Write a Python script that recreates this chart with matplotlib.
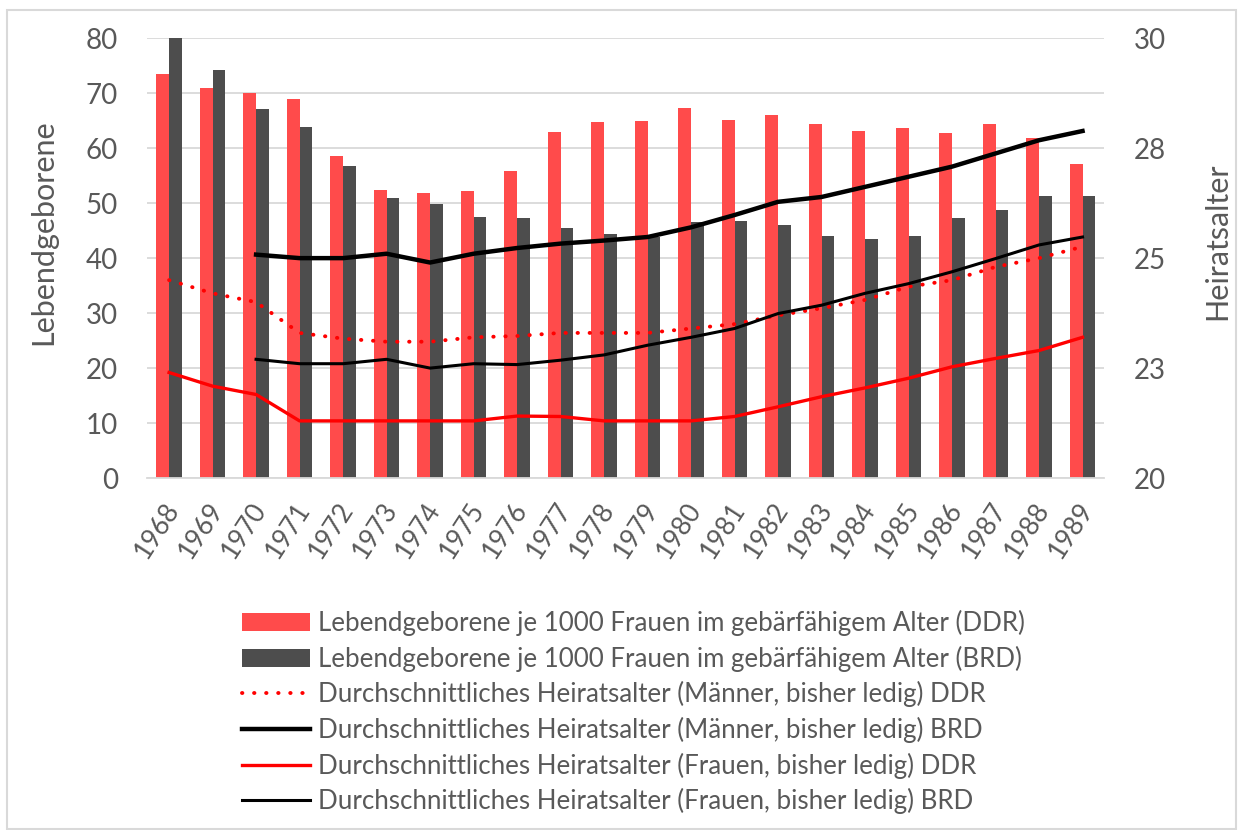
import numpy as np
import matplotlib.pyplot as plt
import matplotlib.transforms as mtransforms
from matplotlib.patches import Rectangle

# daten
jahre = [str(j) for j in range(1968, 1990)]
geb_ddr = [73.5, 71.0, 70.0, 68.9, 58.5, 52.3, 51.8, 52.2, 55.8, 63.0, 64.8,
           64.9, 67.3, 65.1, 66.0, 64.4, 63.1, 63.7, 62.8, 64.4, 61.8, 57.2]
geb_brd = [80.0, 74.3, 67.1, 63.8, 56.7, 51.0, 49.9, 47.5, 47.3, 45.4, 44.4,
           43.9, 46.6, 46.7, 46.1, 44.1, 43.5, 44.0, 47.3, 48.7, 51.3, 51.3]
maenner_ddr = [24.5, 24.2, 24.0, 23.3, 23.17, 23.1, 23.1, 23.2, 23.23, 23.3, 23.3,
               23.3, 23.4, 23.5, 23.7, 23.86, 24.05, 24.35, 24.5, 24.8, 25.0, 25.26]
maenner_brd = [np.nan, np.nan, 25.08, 25.0, 25.0, 25.1, 24.9, 25.1, 25.23, 25.33, 25.4,
               25.48, 25.7, 25.98, 26.28, 26.39, 26.62, 26.85, 27.08, 27.38, 27.68, 27.89]
frauen_ddr = [22.4, 22.09, 21.9, 21.3, 21.3, 21.3, 21.3, 21.3, 21.41, 21.4, 21.3,
              21.3, 21.3, 21.4, 21.62, 21.85, 22.05, 22.27, 22.53, 22.72, 22.9, 23.2]
frauen_brd = [np.nan, np.nan, 22.7, 22.6, 22.6, 22.7, 22.5, 22.6, 22.58, 22.68, 22.8,
              23.02, 23.2, 23.4, 23.74, 23.93, 24.2, 24.42, 24.69, 24.99, 25.3, 25.48]

grau = '#595959'
plt.rcParams['font.family'] = ['Lato', 'DejaVu Sans']

fig = plt.figure(figsize=(12.38, 8.3), dpi=100)
# rahmen wie im excel-diagramm
fig.patches.append(Rectangle((7/1238, 1/830), 1229/1238, 819/830, transform=fig.transFigure,
                             fill=False, edgecolor='#D9D9D9', lw=1.5))
ax = fig.add_axes([0.119, 0.424, 0.773, 0.530])
ax2 = ax.twinx()

x = np.arange(len(jahre))
b = 0.29
h1 = ax.bar(x - b/2, geb_ddr, b, color='#FF4B4B', zorder=2,
            label='Lebendgeborene je 1000 Frauen im gebärfähigem Alter (DDR)')
h2 = ax.bar(x + b/2, geb_brd, b, color='#4D4D4D', zorder=2,
            label='Lebendgeborene je 1000 Frauen im gebärfähigem Alter (BRD)')

l1, = ax2.plot(x, maenner_ddr, color='red', lw=2.8, linestyle=(0, (0.1, 3.0)),
               dash_capstyle='round',
               label='Durchschnittliches Heiratsalter (Männer, bisher ledig) DDR')
l2, = ax2.plot(x, maenner_brd, color='black', lw=3.2,
               label='Durchschnittliches Heiratsalter (Männer, bisher ledig) BRD')
l3, = ax2.plot(x, frauen_ddr, color='red', lw=2.4,
               label='Durchschnittliches Heiratsalter (Frauen, bisher ledig) DDR')
l4, = ax2.plot(x, frauen_brd, color='black', lw=2.2,
               label='Durchschnittliches Heiratsalter (Frauen, bisher ledig) BRD')

ax.set_xlim(-0.5, len(jahre) - 0.5)
ax.set_ylim(0, 80)
ax.set_yticks(range(0, 81, 10))
ax.grid(axis='y', color='#D9D9D9', lw=1.3, zorder=0)
ax.set_axisbelow(True)
ax2.set_ylim(20, 30)
ax2.set_yticks([20, 22.5, 25, 27.5, 30])
ax2.set_yticklabels(['20', '23', '25', '28', '30'])

for a in (ax, ax2):
    for s in a.spines.values():
        s.set_visible(False)
    a.tick_params(length=0, labelsize=20, colors=grau, pad=21)
ax.spines['bottom'].set_visible(True)
ax.spines['bottom'].set_color('#D9D9D9')
ax.spines['bottom'].set_linewidth(1.3)

ax.set_xticks(x)
ax.set_xticklabels(jahre, rotation=57, ha='right', va='center',
                   rotation_mode='anchor', fontsize=19, color=grau)
ax.tick_params(axis='x', pad=19)
versatz = mtransforms.ScaledTranslation(0.05, 0, fig.dpi_scale_trans)
for lab in ax.get_xticklabels():
    lab.set_transform(lab.get_transform() + versatz)

ax.set_ylabel('Lebendgeborene', fontsize=22, color=grau)
ax.yaxis.set_label_coords(-0.094, 0.559)
ax2.set_ylabel('Heiratsalter', fontsize=22, color=grau)
ax2.yaxis.set_label_coords(1.103, 0.539)

fig.legend(handles=[h1, h2, l1, l2, l3, l4], loc='upper left',
           bbox_to_anchor=(242/1238, 0.265), frameon=False, fontsize=18.6,
           labelcolor=grau, handlelength=2.65, handleheight=0.7,
           labelspacing=0.37, handletextpad=0.31, borderpad=0, borderaxespad=0)

fig.savefig('out.png', dpi=100)
